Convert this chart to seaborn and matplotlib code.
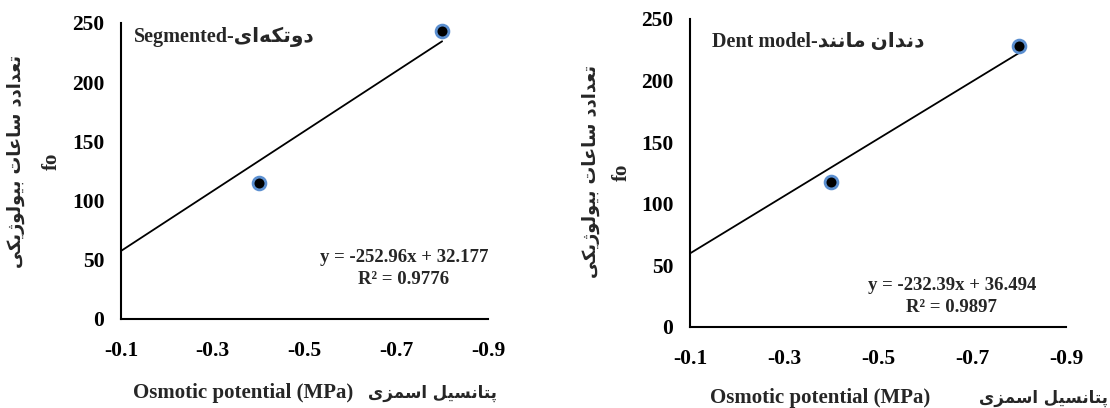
import numpy as np
import pandas as pd
import matplotlib
matplotlib.use("Agg")
import matplotlib.pyplot as plt
import matplotlib.patheffects as pe
import seaborn as sns

# dados
osmotic = [-0.4, -0.8]
seg_hours = [115, 243]
dent_hours = [118, 228]

# linhas de tendencia (coeficientes do Excel)
seg_slope, seg_inter, seg_r2 = -252.96, 32.177, 0.9776
dent_slope, dent_inter, dent_r2 = -232.39, 36.494, 0.9897

x_ticks = [-0.1, -0.3, -0.5, -0.7, -0.9]
y_ticks = [0, 50, 100, 150, 200, 250]

ylabel_fa = "تعدادد ساعات بیولوژیکی"
xlabel_fa = "پتانسیل اسمزی"
seg_fa = "دوتکه\u200cای"
dent_fa = "دندان مانند"

# formas de apresentacao (isolada, final, inicial, medial)
FORMS = {
    'ا': ('\uFE8D', '\uFE8E', None, None),
    'ب': ('\uFE8F', '\uFE90', '\uFE91', '\uFE92'),
    'پ': ('\uFB56', '\uFB57', '\uFB58', '\uFB59'),
    'ت': ('\uFE95', '\uFE96', '\uFE97', '\uFE98'),
    'د': ('\uFEA9', '\uFEAA', None, None),
    'ز': ('\uFEAF', '\uFEB0', None, None),
    'ژ': ('\uFB8A', '\uFB8B', None, None),
    'س': ('\uFEB1', '\uFEB2', '\uFEB3', '\uFEB4'),
    'ع': ('\uFEC9', '\uFECA', '\uFECB', '\uFECC'),
    'ک': ('\uFB8E', '\uFB8F', '\uFB90', '\uFB91'),
    'ل': ('\uFEDD', '\uFEDE', '\uFEDF', '\uFEE0'),
    'م': ('\uFEE1', '\uFEE2', '\uFEE3', '\uFEE4'),
    'ن': ('\uFEE5', '\uFEE6', '\uFEE7', '\uFEE8'),
    'ه': ('\uFEE9', '\uFEEA', '\uFEEB', '\uFEEC'),
    'و': ('\uFEED', '\uFEEE', None, None),
    'ی': ('\uFBFC', '\uFBFD', '\uFBFE', '\uFBFF'),
}


def fa(text):
    out = []
    for i, c in enumerate(text):
        if c not in FORMS:
            if c != '\u200c':
                out.append(c)
            continue
        prev = text[i - 1] if i > 0 else ''
        nxt = text[i + 1] if i + 1 < len(text) else ''
        pj = prev in FORMS and FORMS[prev][2] is not None
        nj = nxt in FORMS and FORMS[c][2] is not None
        iso, fin, ini, med = FORMS[c]
        if pj and nj:
            out.append(med)
        elif pj:
            out.append(fin)
        elif nj:
            out.append(ini)
        else:
            out.append(iso)
    return ''.join(out[::-1])


sns.set_style("white")
plt.rcParams['font.family'] = ['Liberation Serif', 'DejaVu Sans']
plt.rcParams['font.weight'] = 'bold'

fig = plt.figure(figsize=(11.1, 4.08), dpi=100)
W, H = 1110, 408

panels = [
    dict(hours=seg_hours, slope=seg_slope, inter=seg_inter, r2=seg_r2,
         title="Segmented-" + fa(seg_fa), box=(121, 23, 488, 319),
         title_xy=(134, 37), eq_xy=(404, 258), ylab_x=(16, 52), ylab_y=161,
         xlab_y=393, xlab_en=(133, 355), xlab_fa=497),
    dict(hours=dent_hours, slope=dent_slope, inter=dent_inter, r2=dent_r2,
         title="Dent model-" + fa(dent_fa), box=(690, 19, 1066, 327),
         title_xy=(712, 42), eq_xy=(952, 285), ylab_x=(591, 622), ylab_y=172,
         xlab_y=398, xlab_en=(710, 935), xlab_fa=1108),
]

for p in panels:
    x0, y0, x1, y1 = p["box"]
    ax = fig.add_axes([x0 / W, 1 - y1 / H, (x1 - x0) / W, (y1 - y0) / H])
    df = pd.DataFrame({"x": osmotic, "y": p["hours"]})

    # linha de tendencia
    tx = np.array([x_ticks[0], max(osmotic, key=abs)])
    trend = pd.DataFrame({"x": tx, "y": p["slope"] * tx + p["inter"]})
    sns.lineplot(data=trend, x="x", y="y", ax=ax, color="black", lw=1.3)

    sc = sns.scatterplot(data=df, x="x", y="y", ax=ax, color="black", s=85,
                         edgecolor="#5B8FD0", linewidth=2.0, zorder=5)
    sc.collections[0].set_path_effects(
        [pe.SimplePatchShadow(offset=(1.5, -2.5), alpha=0.22), pe.Normal()])

    ax.set_xlim(-0.1, -0.9)
    ax.set_ylim(0, 250)
    ax.set_xticks(x_ticks)
    ax.set_xticklabels([f"{v:.1f}" for v in x_ticks])
    ax.set_yticks(y_ticks)
    ax.tick_params(axis="both", direction="out", length=5, width=1.3,
                   labelsize=15.5, pad=7, color="black", labelcolor="black")
    ax.tick_params(axis="x", pad=11)
    for lbl in ax.get_xticklabels() + ax.get_yticklabels():
        lbl.set_fontweight("bold")
        lbl.set_family("Liberation Serif")
    for s in ["top", "right"]:
        ax.spines[s].set_visible(False)
    for s in ["left", "bottom"]:
        ax.spines[s].set_color("black")
        ax.spines[s].set_linewidth(1.5)
    ax.set_xlabel("")
    ax.set_ylabel("")

    # titulo do painel
    fig.text(p["title_xy"][0] / W, 1 - p["title_xy"][1] / H, p["title"],
             fontsize=14.5, fontweight="bold", ha="left", va="center")

    # equacao
    ex, ey = p["eq_xy"]
    fig.text(ex / W, 1 - ey / H, f"y = {p['slope']}x + {p['inter']}",
             fontsize=13.5, fontweight="bold", ha="center", va="center",
             family="Liberation Serif")
    fig.text(ex / W, 1 - (ey + 22) / H, f"R² = {p['r2']}",
             fontsize=13.5, fontweight="bold", ha="center", va="center",
             family="Liberation Serif")

    # rotulos do eixo y
    fig.text(p["ylab_x"][0] / W, 1 - p["ylab_y"] / H, fa(ylabel_fa),
             rotation=90, fontsize=12.8, fontweight="bold", ha="center",
             va="center", family="DejaVu Sans")
    fig.text(p["ylab_x"][1] / W, 1 - p["ylab_y"] / H, "fo",
             rotation=90, fontsize=15, fontweight="bold", ha="center",
             va="center", family="Liberation Serif")

    # rotulos do eixo x
    fig.text(p["xlab_en"][0] / W, 1 - p["xlab_y"] / H,
             "Osmotic potential (MPa)", fontsize=15, fontweight="bold",
             ha="left", va="center", family="Liberation Serif")
    fig.text(p["xlab_fa"] / W, 1 - p["xlab_y"] / H, fa(xlabel_fa),
             fontsize=12, fontweight="bold", ha="right", va="center",
             family="DejaVu Sans")

fig.savefig("out.png", dpi=100)
